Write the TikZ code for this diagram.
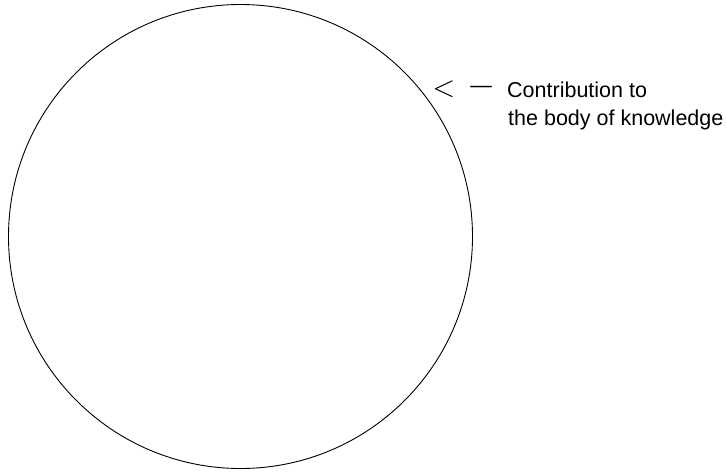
\documentclass[tikz,border=0pt]{standalone}
\usepackage{fontspec}
\setmainfont{Liberation Sans}
\begin{document}
\begin{tikzpicture}[x=1pt,y=-1pt,
  lbl/.style={inner sep=0pt,anchor=base west,font=\fontsize{21.5}{25}\selectfont},
  symb/.style={inner sep=0pt}]
\useasboundingbox (0,0) rectangle (727,471);
\node[circle,draw,line width=0.9pt,minimum size=464pt,inner sep=0pt] (body) at (240.5,236.5) {};
\node[symb,xscale=2.9,yscale=2.9] (lt) at (444,89.5) {$<$};
\node[symb,font=\fontsize{21.5}{25}\selectfont] (dash) at (481,89) {—};
\node[lbl] (l1) at (507,97) {Contribution to};
\node[lbl] (l2) at (508,125) {the body of knowledge};
\end{tikzpicture}
\end{document}
